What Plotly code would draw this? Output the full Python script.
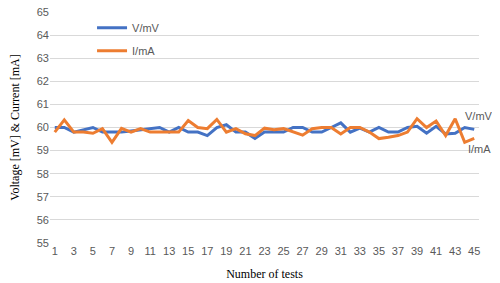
import plotly.graph_objects as go

tests = list(range(1, 46))
tick_labels = [str(i) for i in range(1, 46, 2)]
voltage = [60.0, 60.0, 59.8, 59.9, 60.0, 59.8, 59.8, 59.8, 59.85, 59.9,
           59.95, 60.0, 59.8, 60.0, 59.8, 59.8, 59.65, 60.0, 60.12, 59.8,
           59.8, 59.53, 59.8, 59.8, 59.8, 60.0, 60.0, 59.8, 59.8, 60.0,
           60.2, 59.8, 59.97, 59.8, 60.0, 59.8, 59.8, 60.0, 60.05, 59.75,
           60.05, 59.72, 59.75, 60.0, 59.92]
current = [59.8, 60.33, 59.8, 59.8, 59.75, 59.95, 59.36, 59.96, 59.8, 59.95,
           59.8, 59.8, 59.8, 59.8, 60.3, 60.0, 59.95, 60.35, 59.8, 59.95,
           59.73, 59.65, 59.97, 59.9, 59.95, 59.8, 59.67, 59.95, 60.0, 60.0,
           59.72, 60.0, 60.0, 59.8, 59.52, 59.58, 59.65, 59.8, 60.38, 60.0,
           60.28, 59.65, 60.38, 59.36, 59.53]

fig = go.Figure()
fig.add_trace(go.Scatter(x=tests, y=voltage, mode="lines", name="V/mV",
                         legendgroup="v",
                         line=dict(color="#4472C4", width=3)))
fig.add_trace(go.Scatter(x=tests, y=current, mode="lines", name="I/mA",
                         legendgroup="i",
                         line=dict(color="#ED7D31", width=3)))

fig.add_annotation(x=0.963, y=0.548, xref="paper", yref="paper", text="V/mV",
                   showarrow=False, xanchor="left", yanchor="middle",
                   font=dict(family="Liberation Sans", size=11, color="#595959"))
fig.add_annotation(x=0.97, y=0.405, xref="paper", yref="paper", text="I/mA",
                   showarrow=False, xanchor="left", yanchor="middle",
                   font=dict(family="Liberation Sans", size=11, color="#595959"))

fig.update_layout(
    width=492, height=275,
    margin=dict(l=42, r=21, t=4, b=40, autoexpand=False),
    paper_bgcolor="white", plot_bgcolor="white",
    showlegend=True,
    legend=dict(x=0.098, y=0.995, xanchor="left", yanchor="top",
                bgcolor="rgba(0,0,0,0)", tracegroupgap=4,
                font=dict(family="Liberation Sans", size=11, color="#595959")),
    xaxis=dict(range=[0.5, 45.5], tickmode="array", automargin=False,
               tickvals=list(range(1, 46, 2)), ticktext=tick_labels,
               showgrid=False, zeroline=False, showline=False, ticks="",
               tickfont=dict(family="Liberation Sans", size=11, color="#595959"),
               title=dict(text="Number of tests", standoff=13,
                          font=dict(family="Liberation Serif", size=12, color="black"))),
    yaxis=dict(range=[55, 65], dtick=1, showgrid=True, gridcolor="#D9D9D9",
               gridwidth=1, zeroline=False, showline=False, ticks="", automargin=False,
               ticklabeloverflow="allow",
               tickfont=dict(family="Liberation Sans", size=11, color="#595959"),
               title=dict(text="Voltage [mV] & Current [mA]", standoff=30,
                          font=dict(family="Liberation Serif", size=12, color="black"))),
)

fig.write_html("out.html")
